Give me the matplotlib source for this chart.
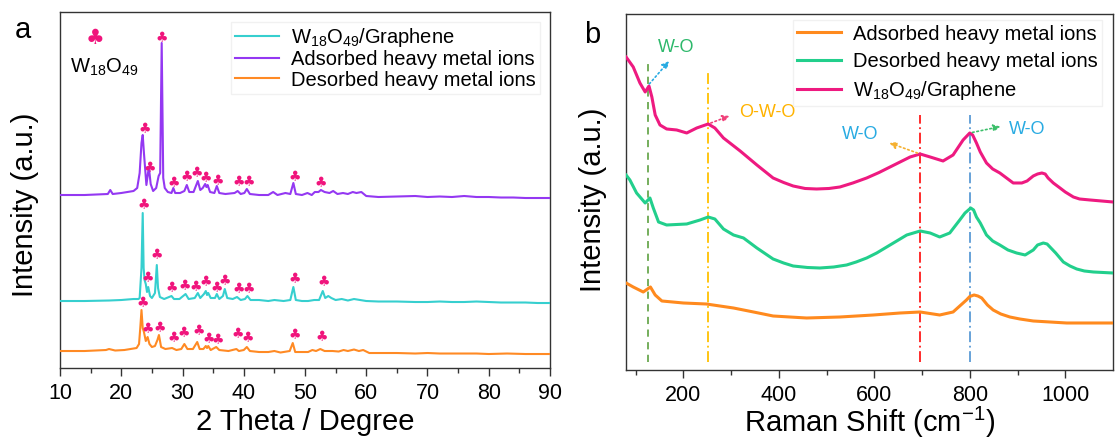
import matplotlib
matplotlib.use('Agg')
import matplotlib.pyplot as plt

plt.rcParams['font.family'] = ['Liberation Sans', 'DejaVu Sans']
plt.rcParams['mathtext.fontset'] = 'custom'
plt.rcParams['mathtext.rm'] = 'Liberation Sans'

# ---------------- panel a: XRD ----------------
theta_ads = [10, 14, 17.8, 18.2, 18.6, 20, 21, 22, 22.6, 23.0, 23.3, 23.5, 23.7, 24.1, 24.5, 24.8,
             25.2, 25.7, 26.1, 26.35, 26.6, 26.85, 27.1, 27.6, 28.2, 28.5, 28.8, 29.6, 30.3, 30.7,
             31.1, 31.8, 32.5, 32.9, 33.3, 33.7, 33.9, 34.1, 34.5, 35.2, 35.6, 36.0, 37.0, 38.5,
             39.0, 39.5, 40.1, 40.5, 41.0, 42.5, 44.0, 44.8, 45.5, 46.8, 47.6, 48.1, 48.5, 49.5,
             50.4, 51.1, 51.6, 52.2, 52.6, 53.2, 54.0, 54.6, 55.3, 56.2, 57.0, 57.8, 58.4, 59.2,
             60, 62, 65, 68, 70, 72, 74, 76, 78, 80, 82, 84, 86, 88, 90]
int_ads = [173, 173, 174, 178, 174, 175, 176, 177, 180, 195, 225, 233, 215, 183, 201, 184,
           177, 180, 192, 195, 325, 190, 180, 176, 175, 180, 175, 175, 177, 183,
           176, 176, 187, 178, 180, 184, 181, 183, 176, 175, 182, 175, 174, 175,
           177, 174, 175, 179, 174, 173, 173, 176, 173, 175, 174, 185, 174, 173,
           175, 173, 176, 176, 178, 176, 175, 177, 174, 175, 174, 176, 175, 176,
           172, 171, 171.5, 172, 171, 171.5, 171, 172, 171, 171, 170.5, 170.5, 170, 170, 170]

theta_wg = [10, 14, 18, 20, 22, 22.8, 23.0, 23.3, 23.5, 23.65, 23.8, 24.0, 24.2, 24.4, 24.7, 25.0,
            25.5, 25.8, 26.0, 26.3, 27.0, 28.2, 28.6, 29.5, 30.5, 31.0, 32.0, 32.5, 32.9, 33.5,
            33.8, 34.0, 34.2, 34.6, 35.3, 35.6, 36.0, 36.6, 36.9, 37.3, 38.2, 38.9, 39.5, 40.2,
            40.6, 41.1, 42.5, 44, 45, 46.5, 47.6, 48.1, 48.5, 49.5, 50.5, 51.5, 52.3, 52.9, 53.3,
            53.8, 54.3, 55, 56, 57, 58, 59, 60, 62, 65, 68, 70, 72, 74, 76, 78, 80, 82, 84, 86, 88, 90]
int_wg = [67, 67, 67.5, 68, 69, 69, 70, 100, 155, 100, 88, 84, 76, 81, 72, 70,
          75, 103, 80, 71, 69, 72, 69, 69, 74, 69, 70, 75, 70, 74,
          77, 73, 75, 70, 70, 74, 69, 72, 79, 70, 69, 71, 68, 69,
          72, 68, 68, 67, 68, 67, 68, 81, 68, 67, 67, 68, 68, 77, 70,
          72, 70, 68, 69, 67.5, 69, 68, 67, 66.5, 66.5, 66, 66, 66.5, 66, 66, 66.5, 66, 65.5, 65.5, 65.5, 65, 65]

theta_des = [10, 14, 17.5, 18, 19, 20.5, 21.5, 22.5, 22.9, 23.1, 23.3, 23.5, 23.7, 24.0, 24.3, 24.6,
             25.0, 25.5, 25.9, 26.15, 26.5, 27.2, 28.3, 29.0, 29.8, 30.3, 30.8, 31.7, 32.4, 32.8,
             33.4, 33.8, 34.0, 34.2, 34.6, 35.5, 36.0, 37.5, 38.8, 39.2, 40.0, 40.5, 41.0, 42.5,
             44.0, 45.0, 46.0, 47.5, 48.0, 48.4, 49.5, 50.5, 51.2, 51.8, 52.5, 53.2, 54.5, 55.5,
             56.3, 57.0, 58.0, 58.8, 59.5, 60.5, 62, 65, 68, 70, 72, 75, 78, 80, 83, 86, 88, 90]
int_des = [17, 17, 18, 19, 17.5, 18, 19, 20, 24, 40, 58, 40, 36, 27, 31, 24,
           21, 22, 28, 33, 21, 19, 20, 18, 19, 24, 19, 19, 26, 19,
           19, 22, 20, 22, 18, 21, 18, 17, 19, 17, 18, 21, 17, 16,
           16, 17, 15.5, 17, 25, 16, 16, 16, 18, 17, 19, 17, 17, 16.5,
           18, 17, 18.5, 17, 18, 15, 15, 15, 14.5, 15, 14.5, 14.5, 14.5, 14, 14.5, 14, 14, 14]

# club marks (W18O49 reflections)
club_ads_x = [23.9, 24.7, 26.6, 28.5, 30.7, 32.4, 33.8, 35.7, 39.1, 40.8, 48.4, 52.6]
club_ads_y = [239, 200, 330, 185, 191, 195, 190, 187, 186, 186, 191, 185]
club_wg_x = [23.6, 25.8, 24.4, 28.3, 30.4, 32.2, 33.8, 35.6, 36.9, 39.2, 40.8, 48.4, 53.1]
club_wg_y = [163, 113, 90, 80, 82, 81, 86, 80, 87, 79, 79, 89, 86]
club_des_x = [23.5, 24.4, 26.2, 28.6, 30.2, 32.6, 34.2, 35.7, 39.0, 40.7, 48.3, 52.7]
club_des_y = [65, 39, 40, 30, 35, 37, 29, 28, 34, 30, 33, 31]

# ---------------- panel b: Raman ----------------
w_pink = [80, 95, 109, 120, 128, 134, 141, 151, 165, 186, 207, 228, 252, 266, 284, 319, 354, 388,
          410, 430, 455, 479, 505, 528, 555, 584, 610, 633, 675, 696, 717, 744, 765, 786, 800,
          806, 814, 822, 835, 848, 863, 877, 891, 909, 920, 933, 942, 951, 958, 964, 975, 989,
          1000, 1017, 1030, 1052, 1100]
i_pink = [313, 303, 287, 278, 284, 273, 255, 245, 241, 240, 237, 242, 246, 242, 232, 219, 205, 192,
          187.5, 184, 181.5, 181, 181.5, 183, 187, 192, 197.5, 203, 213, 216, 213, 209, 215, 230, 237,
          235, 227, 218, 207, 201, 197, 192, 187, 187, 189, 194, 196, 197, 196, 192, 187, 182,
          178, 173, 171, 170, 168]
w_green = [80, 88, 102, 120, 130, 137, 148, 165, 207, 235, 252, 266, 284, 305, 326, 354, 388, 410,
           430, 460, 486, 515, 542, 562, 584, 605, 626, 647, 668, 696, 717, 737, 758, 779, 790,
           802, 808, 814, 822, 835, 848, 863, 880, 898, 916, 933, 942, 954, 962, 968, 980, 996,
           1010, 1024, 1040, 1059, 1100]
i_green = [195, 190, 177, 167, 172, 162, 148, 145, 146, 150, 153, 151, 141, 135, 132, 122, 111, 107,
           104, 102.5, 102, 103, 105, 108, 112, 117, 123, 129, 135, 139, 137, 133, 137, 150, 157,
           162, 160, 153, 147, 135, 129, 125, 120, 117, 115, 120, 125, 127, 126, 123, 117, 108,
           104, 101, 99, 98, 97]
w_orange = [80, 95, 116, 131, 141, 155, 200, 248, 305, 347, 388, 458, 528, 598, 654, 696, 737, 765,
            793, 800, 809, 817, 825, 837, 849, 865, 884, 905, 933, 1003, 1100]
i_orange = [87, 83, 78, 83, 75, 69, 67, 66, 62, 58, 54, 52, 53, 55, 57, 58, 55, 58,
            70, 73.5, 75, 74, 72, 65, 60, 56, 53, 51, 49, 47, 47]

vline_x = [125, 252, 696, 800]
vline_top = [308, 300, 255, 255]

fig = plt.figure(figsize=(11.16, 4.41), dpi=100)
ax1 = fig.add_axes([0.0538, 0.1655, 0.439, 0.8073])
ax2 = fig.add_axes([0.561, 0.161, 0.4363, 0.8073])

c_wg = '#36cfcf'
c_ads = '#9438f2'
c_des = '#ff8a24'
c_club = '#f0147c'

ax1.plot(theta_wg, int_wg, color=c_wg, lw=1.5, label='W$_\\mathregular{18}$O$_\\mathregular{49}$/Graphene', zorder=3)
ax1.plot(theta_ads, int_ads, color=c_ads, lw=1.5, label='Adsorbed heavy metal ions', zorder=3)
ax1.plot(theta_des, int_des, color=c_des, lw=1.5, label='Desorbed heavy metal ions', zorder=3)

for xs, ys in [(club_ads_x, club_ads_y), (club_wg_x, club_wg_y), (club_des_x, club_des_y)]:
    for x, y in zip(xs, ys):
        ax1.text(x, y, '\u2663', color=c_club, fontsize=10, family=['DejaVu Sans'],
                 ha='center', va='center', zorder=4)
ax1.text(15.7, 330, '\u2663', color=c_club, fontsize=15, family=['DejaVu Sans'], ha='center', va='center')
ax1.text(11.6, 301, 'W$_\\mathregular{18}$O$_\\mathregular{49}$', fontsize=14.5, ha='left', va='center')

ax1.set_xlim(10, 90)
ax1.set_ylim(0, 356)
ax1.set_xticks(range(10, 91, 10))
ax1.set_xticks(range(15, 90, 10), minor=True)
ax1.set_yticks([])
ax1.set_xlabel('2 Theta / Degree', fontsize=21, labelpad=3)
ax1.legend(loc='upper right', fontsize=14.5, handlelength=2.2, labelspacing=0.06,
           borderpad=0.2, handletextpad=0.6, frameon=True, edgecolor='#eeeeee',
           fancybox=False, bbox_to_anchor=(1.0, 1.0))

c_pink = '#ee1a80'
c_green = '#22cf8c'
c_orng = '#ff8a1e'
ax2.plot(w_orange, i_orange, color=c_orng, lw=2.2, label='Adsorbed heavy metal ions', zorder=3)
ax2.plot(w_green, i_green, color=c_green, lw=2.2, label='Desorbed heavy metal ions', zorder=3)
ax2.plot(w_pink, i_pink, color=c_pink, lw=2.2, label='W$_\\mathregular{18}$O$_\\mathregular{49}$/Graphene', zorder=3)

vcolors = ['#6aa84f', '#ffc000', '#ff1a1a', '#5b9bd5']
vstyles = [(0, (4, 3)), (0, (6, 2, 1, 2)), (0, (6, 2, 1, 2)), (0, (6, 2, 1, 2))]
for x, top, c, ls in zip(vline_x, vline_top, vcolors, vstyles):
    ax2.plot([x, x], [8, top], color=c, lw=1.3, ls=ls, zorder=2)

ax2.annotate('', xy=(174, 311), xytext=(125, 284),
             arrowprops=dict(arrowstyle='-|>', color='#29abe2', ls=':', lw=1.2, mutation_scale=10))
ax2.annotate('', xy=(302, 255), xytext=(252, 246),
             arrowprops=dict(arrowstyle='-|>', color='#f0417a', ls=':', lw=1.2, mutation_scale=10))
ax2.annotate('', xy=(626, 228), xytext=(696, 216),
             arrowprops=dict(arrowstyle='-|>', color='#f5b030', ls=':', lw=1.2, mutation_scale=10))
ax2.annotate('', xy=(870, 244), xytext=(800, 237),
             arrowprops=dict(arrowstyle='-|>', color='#3cbf6a', ls=':', lw=1.2, mutation_scale=10))
ax2.text(185, 322, 'W-O', color='#2db86b', fontsize=13, ha='center', va='center')
ax2.text(375, 257, 'O-W-O', color='#ffb300', fontsize=13, ha='center', va='center')
ax2.text(570, 235, 'W-O', color='#29abe2', fontsize=13, ha='center', va='center')
ax2.text(921, 240, 'W-O', color='#29abe2', fontsize=13, ha='center', va='center')

ax2.set_xlim(80, 1100)
ax2.set_ylim(0, 356)
ax2.set_xticks(range(200, 1001, 200))
ax2.set_xticks(range(100, 1100, 200), minor=True)
ax2.set_yticks([])
ax2.set_xlabel('Raman Shift (cm$^\\mathregular{-1}$)', fontsize=21, labelpad=-1)
ax2.legend(loc='upper right', fontsize=14.5, handlelength=2.2, labelspacing=0.42,
           borderpad=0.2, handletextpad=0.6, frameon=True, edgecolor='#eeeeee',
           fancybox=False, bbox_to_anchor=(0.998, 1.01))

for ax in (ax1, ax2):
    for s in ax.spines.values():
        s.set_color('#333333')
        s.set_linewidth(1.0)
    ax.tick_params(axis='x', which='major', direction='out', length=6, width=1,
                   labelsize=15.5, colors='#333333', labelcolor='black', pad=5)
    ax.tick_params(axis='x', which='minor', direction='out', length=3.5, width=1, colors='#333333')

fig.text(25 / 1116, 1 - 205 / 441, 'Intensity (a.u.)', fontsize=21, rotation=90, ha='center', va='center')
fig.text(593 / 1116, 1 - 200 / 441, 'Intensity (a.u.)', fontsize=21, rotation=90, ha='center', va='center')
fig.text(23 / 1116, 1 - 30 / 441, 'a', fontsize=21, ha='center', va='center')
fig.text(592 / 1116, 1 - 35 / 441, 'b', fontsize=21, ha='center', va='center')

fig.savefig('out.png', dpi=100)
